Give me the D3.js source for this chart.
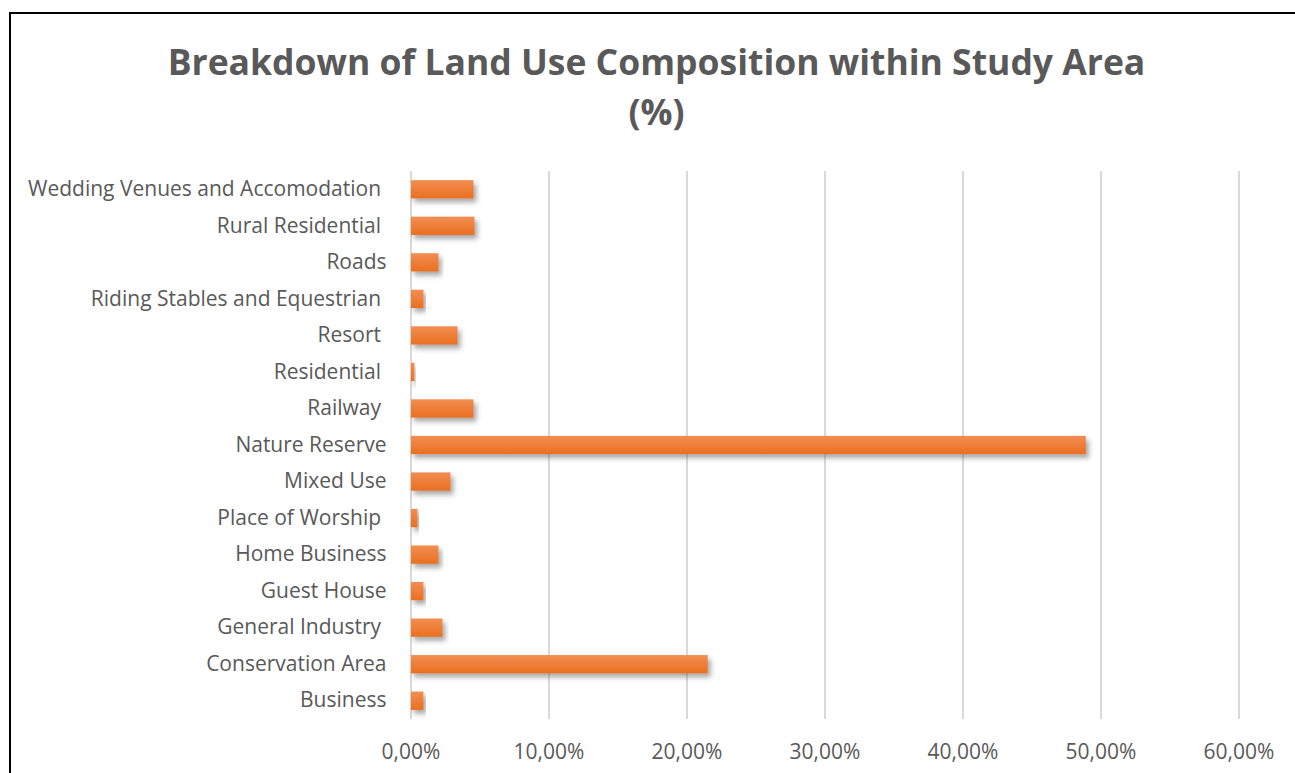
<!DOCTYPE html>
<html>
<head>
<meta charset="utf-8">
<script src="https://cdn.jsdelivr.net/npm/d3@7"></script>
<style>
  body { margin: 0; background: #fff; }
  svg { display: block; }
</style>
</head>
<body>
<script>
// categories bottom to top, as in the Excel sheet (some carry a trailing space)
var categories = ['Business', 'Conservation Area', 'General Industry ', 'Guest House', 'Home Business',
    'Place of Worship ', 'Mixed Use', 'Nature Reserve', 'Railway ', 'Residential ', 'Resort ',
    'Riding Stables and Equestrian ', 'Roads', 'Rural Residential ', 'Wedding Venues and Accomodation '];
var shares = [0.009, 0.215, 0.0228, 0.009, 0.0199, 0.0047, 0.0286, 0.489, 0.0453, 0.0025, 0.0337,
    0.009, 0.0199, 0.046, 0.0453];
var xTicks = [0, 0.1, 0.2, 0.3, 0.4, 0.5, 0.6];
var titleLines = ['Breakdown of Land Use Composition within Study Area', '(%)'];

var svgwidth = 1295,
    svgheight = 773,
    margin = { top: 171, left: 410.5, right: 56.5, bottom: 54 }, // plot area inside the svg
    width = svgwidth - margin.left - margin.right,
    height = svgheight - margin.top - margin.bottom;

var comma = d3.formatLocale({ decimal: ',', thousands: '.', grouping: [3], currency: ['', '€'] });

var svg = d3.select('body').append('svg')
    .attr('width', svgwidth)
    .attr('height', svgheight)
    .style('font-family', '"Open Sans", sans-serif');

svg.append('rect').attr('width', svgwidth).attr('height', svgheight).attr('fill', '#fff');

// frame of the chart object, only left and top edges fall inside the crop
svg.append('path')
    .attr('d', 'M10,' + svgheight + 'V13H' + svgwidth)
    .attr('fill', 'none')
    .attr('stroke', '#000')
    .attr('stroke-width', 2);

var defs = svg.append('defs');
var grad = defs.append('linearGradient')
    .attr('id', 'barGrad')
    .attr('x1', 0).attr('y1', 0).attr('x2', 0).attr('y2', 1);
grad.append('stop').attr('offset', '0%').attr('stop-color', '#F28E52');
grad.append('stop').attr('offset', '100%').attr('stop-color', '#EA6F1F');

var shadow = defs.append('filter')
    .attr('id', 'barShadow')
    .attr('x', '-10%').attr('y', '-30%').attr('width', '130%').attr('height', '190%');
shadow.append('feDropShadow')
    .attr('dx', 3).attr('dy', 4)
    .attr('stdDeviation', 2.5)
    .attr('flood-color', '#404040')
    .attr('flood-opacity', 0.45);

var x = d3.scaleLinear()
    .domain([0, 0.6])
    .range([0, width]);

var y = d3.scaleBand()
    .domain(categories.slice().reverse())
    .range([0, height])
    .paddingInner(0.5)
    .paddingOuter(0.25);

var g = svg.append('g')
    .attr('transform', 'translate(' + margin.left + ',' + margin.top + ')');

// gridlines + tick labels
var xAxis = g.append('g')
    .attr('transform', 'translate(0,' + height + ')')
    .call(d3.axisBottom(x)
        .tickValues(xTicks)
        .tickSize(-height)
        .tickPadding(25)
        .tickFormat(comma.format('.2%')));
xAxis.select('.domain').remove();
xAxis.selectAll('line').attr('stroke', '#D9D9D9').attr('stroke-width', 2);
xAxis.selectAll('text')
    .attr('fill', '#595959')
    .style('font-size', '21px')
    .style('font-family', '"Open Sans", sans-serif');

// category labels
var yAxis = g.append('g')
    .call(d3.axisLeft(y).tickSize(0).tickPadding(24));
yAxis.select('.domain').remove();
yAxis.selectAll('text')
    .attr('fill', '#595959')
    .style('white-space', 'pre')
    .style('font-size', '21px')
    .style('font-family', '"Open Sans", sans-serif');

// bars
g.selectAll('rect.bar')
    .data(categories)
    .enter().append('rect')
    .attr('class', 'bar')
    .attr('x', x(0) + 0.5)
    .attr('y', function (d) { return y(d); })
    .attr('height', y.bandwidth())
    .attr('width', function (d, i) { return x(shares[i]); })
    .attr('fill', 'url(#barGrad)')
    .attr('filter', 'url(#barShadow)');

// title
svg.append('g').selectAll('text')
    .data(titleLines)
    .enter().append('text')
    .attr('x', 656.5)
    .attr('y', function (d, i) { return 75 + i * 50; })
    .attr('text-anchor', 'middle')
    .attr('fill', '#595959')
    .attr('font-weight', 'bold')
    .style('font-size', '35.5px')
    .text(function (d) { return d; });
</script>
</body>
</html>
